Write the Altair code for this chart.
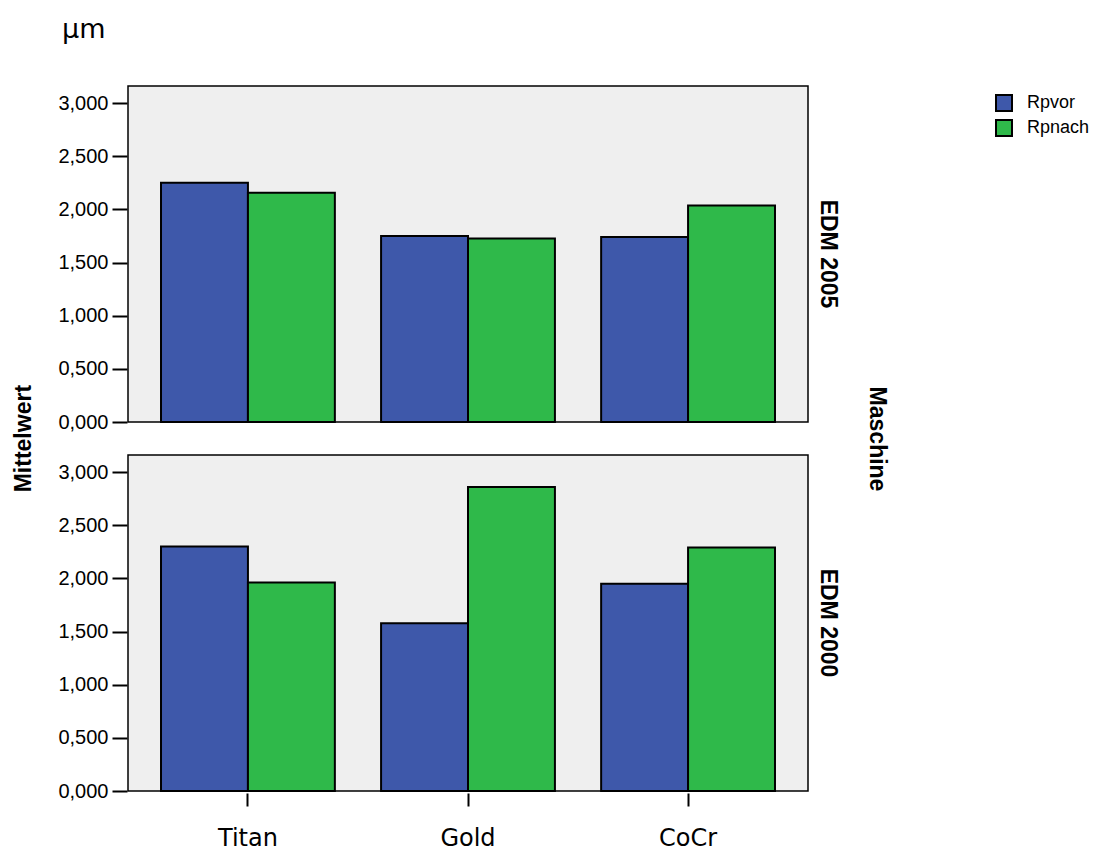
import altair as alt
import pandas as pd

maschinen = ["EDM 2005", "EDM 2000"]
materialien = ["Titan", "Gold", "CoCr"]
variablen = ["Rpvor", "Rpnach"]
edm2005_rpvor = [2.25, 1.75, 1.74]
edm2005_rpnach = [2.155, 1.725, 2.035]
edm2000_rpvor = [2.30, 1.578, 1.95]
edm2000_rpnach = [1.96, 2.86, 2.29]
y_ticks = [0, 0.5, 1.0, 1.5, 2.0, 2.5, 3.0]

series = {
    ("EDM 2005", "Rpvor"): edm2005_rpvor,
    ("EDM 2005", "Rpnach"): edm2005_rpnach,
    ("EDM 2000", "Rpvor"): edm2000_rpvor,
    ("EDM 2000", "Rpnach"): edm2000_rpnach,
}
rows = []
for (m, v), vals in series.items():
    for mat, val in zip(materialien, vals):
        rows.append({"Maschine": m, "Material": mat, "Variable": v, "Mittelwert": val})
df = pd.DataFrame(rows)

FONT = "Liberation Sans"

bars = alt.Chart(df).mark_bar(stroke="black", strokeWidth=2).encode(
    x=alt.X(
        "Material:N",
        sort=materialien,
        scale=alt.Scale(paddingInner=0.21, paddingOuter=0.15),
        axis=alt.Axis(
            title=None, labelAngle=0, labelFont="DejaVu Sans", labelFontSize=24,
            labelColor="black", labelPadding=20, tickSize=13, tickWidth=2,
            tickColor="black", domain=False,
        ),
    ),
    xOffset=alt.XOffset("Variable:N", sort=variablen, scale=alt.Scale(paddingInner=0, paddingOuter=0)),
    y=alt.Y(
        "Mittelwert:Q",
        scale=alt.Scale(domain=[0, 3.16], nice=False, zero=True),
        axis=alt.Axis(
            title=None, values=y_ticks,
            labelExpr="replace(format(datum.value, '.3f'), '.', ',')",
            labelFont=FONT, labelFontSize=20, labelColor="black", labelPadding=4,
            tickSize=15, tickWidth=2, tickColor="black", domain=False, grid=False,
        ),
    ),
    color=alt.Color(
        "Variable:N",
        sort=variablen,
        scale=alt.Scale(domain=variablen, range=["#3e58aa", "#2fb94a"]),
        legend=alt.Legend(
            title=None, orient="none", legendX=867, legendY=8,
            symbolType="square", symbolSize=256, symbolStrokeColor="black",
            symbolStrokeWidth=2, labelFont=FONT, labelFontSize=18, labelColor="black",
            labelOffset=14, rowPadding=1,
        ),
    ),
).properties(width=680, height=336)

faceted = bars.facet(
    row=alt.Row(
        "Maschine:N",
        sort=maschinen,
        title="Maschine",
        header=alt.Header(
            labelOrient="right", labelAngle=90, labelFont=FONT, labelFontSize=23,
            labelFontWeight="bold", labelColor="black", labelPadding=7,
            titleOrient="right", titleAngle=90, titleFont=FONT, titleFontSize=23,
            titleFontWeight="bold", titleColor="black", titlePadding=16,
        ),
    ),
    spacing=30,
).properties(
    title=alt.TitleParams(
        "Mittelwert", orient="left", anchor="middle", font=FONT,
        fontSize=23, fontWeight="bold", color="black", offset=22, dx=29,
    ),
)

chart = alt.vconcat(faceted).properties(
    title=alt.TitleParams(
        "µm", anchor="start", font="DejaVu Sans", fontSize=27, fontWeight="normal",
        color="black", offset=41, dx=49,
    ),
    padding={"left": 4, "top": 8, "right": 0, "bottom": 0},
    background="white",
).configure_view(
    fill="#efefef", stroke="black", strokeWidth=1.5,
)

chart.save("out.html", embed_options={"renderer": "svg", "actions": False})
